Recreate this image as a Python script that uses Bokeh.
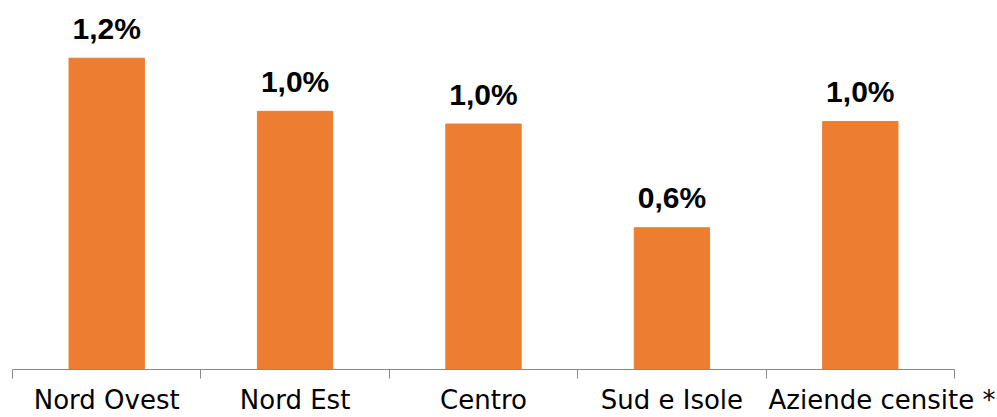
from bokeh.plotting import figure
from bokeh.models import Range1d, FixedTicker
from bokeh.core.properties import value
from bokeh.embed import file_html
from bokeh.resources import INLINE

categories = ["Nord Ovest", "Nord Est", "Centro", "Sud e Isole", "Aziende censite *"]
values = [1.23, 1.02, 0.97, 0.56, 0.98]
labels = [f"{v:.1f}%".replace(".", ",") for v in values]

n = len(categories)
centers = [i + 0.5 for i in range(n)]
bounds = [float(i) for i in range(n + 1)]

# label positions (last label sits slightly to the right, as in the original)
label_pos = list(centers)
label_pos[-1] = centers[-1] + 0.115
overrides = {lp: c for lp, c in zip(label_pos, categories)}

p = figure(width=997, height=417, x_range=Range1d(0, n), y_range=Range1d(0, 1.458),
           output_backend="svg", toolbar_location=None,
           min_border_left=12, min_border_right=43, min_border_top=0, min_border_bottom=47,
           y_axis_location=None)

p.vbar(x=centers, top=values, width=0.4, color="#ED7D31")
p.text(x=centers, y=values, text=labels, text_align="center", text_baseline="alphabetic",
       y_offset=-30, text_font=value("Liberation Sans"), text_font_style="bold",
       text_font_size="30px", text_color="black")

ax = p.xaxis[0]
ax.ticker = FixedTicker(ticks=label_pos, minor_ticks=bounds)
ax.major_label_overrides = overrides
ax.major_tick_line_color = None
ax.major_tick_in = 0
ax.major_tick_out = 0
ax.minor_tick_in = 0
ax.minor_tick_out = 9
ax.minor_tick_line_color = "#898989"
ax.axis_line_color = "#898989"
ax.axis_label_standoff = 0
ax.major_label_standoff = 6
ax.major_label_text_font = "DejaVu Sans"
ax.major_label_text_font_size = "26px"
ax.major_label_text_color = "black"

p.xgrid.grid_line_color = None
p.ygrid.grid_line_color = None
p.outline_line_color = None
p.background_fill_color = "white"
p.border_fill_color = "white"

open("out.html", "w").write(file_html(p, INLINE))
